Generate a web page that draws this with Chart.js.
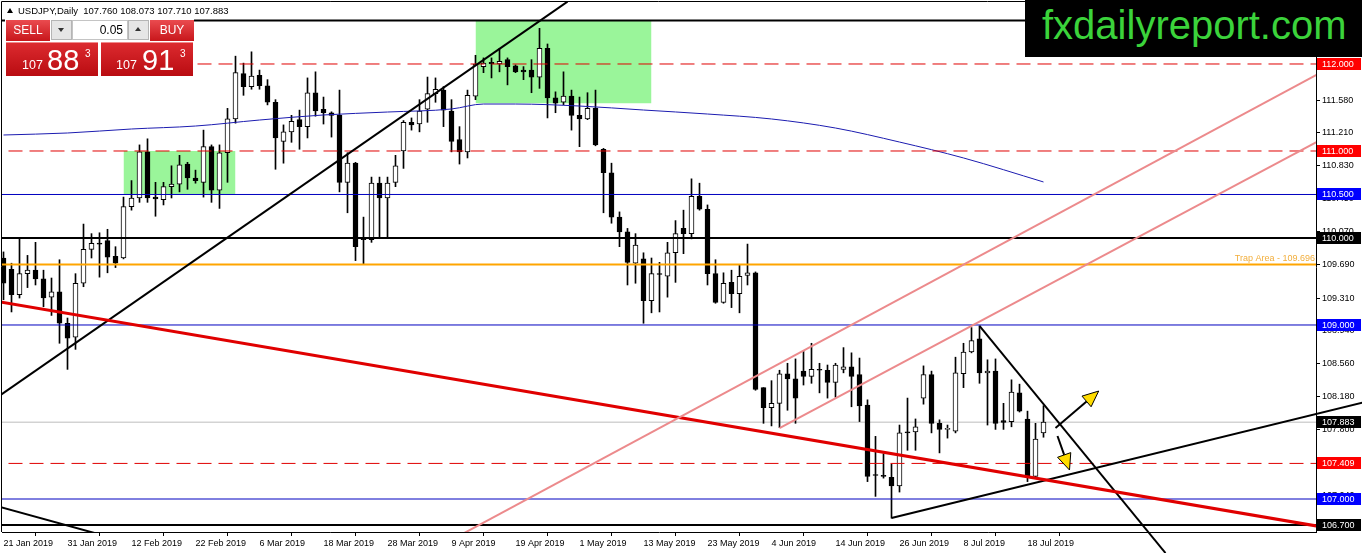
<!DOCTYPE html>
<html>
<head>
<meta charset="utf-8">
<script src="https://cdn.jsdelivr.net/npm/chart.js@4.4.1/dist/chart.umd.min.js"></script>
<style>
  html, body { margin: 0; padding: 0; background: #fff; }
  #wrap { position: relative; width: 1362px; height: 553px; overflow: hidden; font-family: 'Liberation Sans', Arial, sans-serif; }
  #wrap canvas { position: absolute; left: 0; top: 0; }
  .abs { position: absolute; line-height: 1; white-space: nowrap; }
  .red { position: absolute; background: linear-gradient(#ea4b4f, #c8161b); color: #fff; }
  .gray { position: absolute; background: #e6e6e6; border: 1px solid #b5b5b5; box-sizing: border-box; }
</style>
</head>
<body>
<div id="wrap">
  <canvas id="chart" width="1362" height="553"></canvas>

  <!-- symbol header -->
  <div class="abs" style="left:7px;top:8px;width:0;height:0;border-left:3px solid transparent;border-right:3px solid transparent;border-bottom:5px solid #000;"></div>
  <div class="abs" style="left:18px;top:6px;font-size:9.5px;color:#000;">USDJPY,Daily&nbsp; 107.760 108.073 107.710 107.883</div>

  <!-- one click trading panel -->
  <div style="position:absolute;left:5px;top:19px;width:189px;height:57px;background:#fff;"></div>
  <div class="red" style="left:6px;top:20px;width:44px;height:21px;font-size:12px;line-height:21px;text-align:center;">SELL</div>
  <div class="gray" style="left:51px;top:20px;width:21px;height:20px;"></div>
  <div class="abs" style="left:58px;top:28px;width:0;height:0;border-left:3px solid transparent;border-right:3px solid transparent;border-top:4px solid #333;"></div>
  <div style="position:absolute;left:72px;top:20px;width:56px;height:20px;background:#fff;border:1px solid #c4c4c4;box-sizing:border-box;font-size:12px;line-height:18px;text-align:right;padding-right:4px;">0.05</div>
  <div class="gray" style="left:128px;top:20px;width:21px;height:20px;"></div>
  <div class="abs" style="left:135px;top:27px;width:0;height:0;border-left:3px solid transparent;border-right:3px solid transparent;border-bottom:4px solid #333;"></div>
  <div class="red" style="left:150px;top:20px;width:44px;height:21px;font-size:12px;line-height:21px;text-align:center;">BUY</div>

  <div class="red" style="left:6px;top:42px;width:92px;height:34px;background:linear-gradient(#dc2a2f,#b90c11);border-top:1px solid #f08a8c;box-sizing:border-box;">
    <span class="abs" style="left:16px;top:16px;font-size:12.5px;">107</span>
    <span class="abs" style="left:41px;top:3px;font-size:29px;">88</span>
    <span class="abs" style="left:79px;top:6px;font-size:10px;">3</span>
  </div>
  <div class="red" style="left:101px;top:42px;width:92px;height:34px;background:linear-gradient(#dc2a2f,#b90c11);border-top:1px solid #f08a8c;box-sizing:border-box;">
    <span class="abs" style="left:15px;top:16px;font-size:12.5px;">107</span>
    <span class="abs" style="left:41px;top:3px;font-size:29px;">91</span>
    <span class="abs" style="left:79px;top:6px;font-size:10px;">3</span>
  </div>

  <!-- watermark box -->
  <div style="position:absolute;left:1025px;top:0;width:337px;height:57px;background:#000;"></div>
  <div class="abs" style="left:1042px;top:5px;font-size:40px;color:#3bd33b;">fxdailyreport.com</div>
</div>

<script>
// daily candles, 21 Jan 2019 (index 0) .. 22 Jul 2019 (index 130)
const opens = [
  109.77,109.64,109.35,109.59,109.63,109.53,109.32,109.38,109.02,108.86,
  109.48,109.87,109.94,109.97,109.79,109.77,110.36,110.46,110.99,110.47,
  110.44,110.59,110.62,110.85,110.69,110.64,111.05,110.55,110.98,111.37,
  111.89,111.74,111.87,111.75,111.56,111.11,111.22,111.36,111.28,111.67,
  111.48,111.44,111.41,110.64,110.86,110.00,109.98,110.63,110.46,110.64,
  111.00,111.33,111.31,111.48,111.66,111.70,111.46,111.13,110.99,111.63,
  111.97,112.02,112.00,112.05,111.98,111.93,111.93,111.85,112.18,111.61,
  111.56,111.63,111.41,111.37,111.49,111.02,110.75,110.24,110.07,109.71,
  109.76,109.28,109.59,109.56,109.83,110.11,110.05,110.48,110.33,109.59,
  109.26,109.49,109.36,109.57,109.60,108.28,108.05,108.10,108.44,108.38,
  108.47,108.41,108.49,108.48,108.34,108.49,108.52,108.43,108.08,107.28,
  107.27,107.25,107.15,107.77,107.77,108.16,108.43,107.87,107.80,107.78,
  108.44,108.69,108.84,108.45,108.47,107.90,107.89,108.22,107.92,107.26,
  107.760
];
const highs = [
  109.84,109.71,110.00,109.80,109.95,109.63,109.54,109.75,109.08,109.59,
  110.16,110.05,110.06,110.10,109.90,110.47,110.66,111.07,111.14,110.64,
  110.64,110.83,110.95,110.87,110.78,111.24,111.07,111.07,111.49,112.09,
  112.01,112.14,111.93,111.82,111.59,111.30,111.41,111.47,111.84,111.91,
  111.62,111.45,111.70,110.98,110.87,110.24,110.70,110.70,110.70,110.95,
  111.35,111.38,111.59,111.85,111.84,111.74,111.59,111.28,111.70,112.10,
  112.07,112.07,112.18,112.07,111.99,111.97,112.05,112.41,112.23,111.68,
  111.91,111.70,111.62,111.67,111.70,111.03,110.86,110.30,110.11,110.05,
  109.83,109.77,109.72,109.95,110.20,110.32,110.68,110.63,110.38,109.75,
  109.60,109.63,109.69,109.93,109.61,108.28,108.36,108.48,108.56,108.61,
  108.70,108.79,108.56,108.54,108.56,108.74,108.68,108.62,108.14,107.72,
  107.52,107.40,107.85,108.16,107.92,108.53,108.47,107.91,107.85,108.63,
  108.79,108.97,108.99,108.60,108.61,108.10,108.37,108.32,108.01,107.87,
  108.073
];
const lows = [
  109.29,109.15,109.31,109.43,109.46,109.21,109.11,108.79,108.49,108.72,
  109.44,109.77,109.55,109.60,109.66,109.76,110.32,110.41,110.41,110.25,
  110.38,110.46,110.53,110.56,110.63,110.47,110.41,110.34,110.64,111.32,
  111.64,111.71,111.71,111.53,110.79,110.86,111.10,111.02,111.15,111.40,
  111.31,111.16,110.53,110.29,109.74,109.70,109.95,110.01,110.01,110.59,
  110.80,111.24,111.22,111.33,111.56,111.28,110.99,110.85,110.92,111.59,
  111.90,111.84,111.91,111.76,111.90,111.82,111.67,111.72,111.38,111.44,
  111.53,111.24,111.05,111.36,111.06,110.29,110.17,109.90,109.46,109.48,
  109.02,109.14,109.15,109.32,109.49,109.82,109.99,110.32,109.46,109.25,
  109.25,109.20,109.14,109.46,108.25,107.87,107.84,107.82,108.02,107.87,
  108.31,108.33,108.22,108.16,108.17,108.45,108.06,107.89,107.20,107.03,
  107.24,106.78,107.08,107.56,107.56,108.09,107.76,107.53,107.70,107.76,
  108.28,108.68,108.33,107.85,107.80,107.80,107.83,108.00,107.20,107.24,
  107.710
];
const closes = [
  109.48,109.35,109.59,109.63,109.53,109.31,109.38,109.02,108.85,109.48,
  109.87,109.94,109.93,109.78,109.71,110.36,110.46,110.99,110.46,110.45,
  110.59,110.62,110.84,110.69,110.66,111.05,110.55,110.98,111.37,111.90,
  111.74,111.86,111.75,111.56,111.15,111.22,111.34,111.28,111.67,111.46,
  111.44,111.41,110.64,110.86,109.90,109.98,110.63,110.46,110.63,110.83,
  111.33,111.30,111.46,111.66,111.71,111.47,111.11,110.99,111.64,112.00,
  112.01,112.00,112.03,111.97,111.91,111.91,111.85,112.18,111.61,111.55,
  111.63,111.41,111.37,111.49,111.07,110.75,110.24,110.07,109.72,109.92,
  109.28,109.59,109.58,109.83,110.05,110.05,110.48,110.33,109.59,109.26,
  109.48,109.36,109.56,109.60,108.26,108.05,108.10,108.44,108.38,108.16,
  108.41,108.49,108.48,108.34,108.54,108.52,108.41,108.07,107.26,107.27,
  107.26,107.15,107.76,107.76,107.83,108.43,107.87,107.80,107.81,108.45,
  108.69,108.82,108.45,108.47,107.87,107.88,108.23,108.01,107.25,107.69,
  107.883
];

// moving average read at sample bars
const maIdx  = [0, 8, 16, 24, 32, 40, 48, 56, 60, 64, 72, 80, 88, 96, 104, 112, 120, 130];
const maVals = [111.184, 111.207, 111.253, 111.287, 111.356, 111.414, 111.448, 111.483, 111.540,
                111.540, 111.517, 111.471, 111.425, 111.368, 111.264, 111.103, 110.920, 110.644];

// axes
const xTickIdx = [0, 8, 16, 24, 32, 40, 48, 56, 64, 72, 80, 88, 96, 104, 112, 120, 128];
const xTickLabels = ['21 Jan 2019', '31 Jan 2019', '12 Feb 2019', '22 Feb 2019', '6 Mar 2019',
  '18 Mar 2019', '28 Mar 2019', '9 Apr 2019', '19 Apr 2019', '1 May 2019', '13 May 2019',
  '23 May 2019', '4 Jun 2019', '14 Jun 2019', '26 Jun 2019', '8 Jul 2019', '18 Jul 2019'];
const yTicks = [106.670, 107.040, 107.420, 107.800, 108.180, 108.560, 108.940, 109.310,
                109.690, 110.070, 110.450, 110.830, 111.210, 111.580, 111.960, 112.340];

// drawn objects (bar index, price)
const levels     = [112.5, 112.0, 111.0, 110.5, 110.0, 109.696, 109.0, 107.409, 107.0, 106.7];
const levelKinds = ['black', 'reddash', 'reddash', 'blue', 'black', 'orange', 'blue', 'reddash', 'blue', 'black'];
const bidPrice = 107.883;
const tagValues = [112.0, 111.0, 110.5, 110.0, 109.0, 107.883, 107.409, 107.0, 106.7];
const tagColors = ['#ff0000', '#ff0000', '#0000ff', '#000', '#0000ff', '#000', '#ff0000', '#0000ff', '#000'];
const zones = [
  { from: 15, to: 29, top: 111.0, bottom: 110.5 },
  { from: 59, to: 81, top: 112.5, bottom: 111.55 }
];
const trendBlackUp   = [[-0.375, 108.195], [70.5, 112.717]];
const trendBlackLow  = [[-0.375, 106.908], [11.625, 106.603]];
const trendRed       = [[-0.375, 109.264], [164.125, 106.690]];
const trendPink1     = [[57.125, 106.586], [164.125, 111.874]];
const trendPink2     = [[97, 107.816], [164.125, 111.103]];
const trendBlackDown = [[122, 108.989], [145.25, 106.379]];
const trendSupport   = [[111, 106.782], [169.875, 108.107]];
const arrows = [
  { from: [131.5, 107.816], to: [136.9, 108.241] },
  { from: [131.75, 107.724], to: [133.25, 107.333] }
];

const FONT = "'Liberation Sans', Arial, sans-serif";
const xMin = -0.1875, xMax = xMin + 1314 / 8;
const yMin = 106.6207, yMax = 112.7126;

const idx = opens.map((_, i) => i);
const pts = arr => arr.map(p => ({ x: p[0], y: p[1] }));
const noClip = { left: 0, top: 0, right: 0, bottom: 0 };

function seg(points, color, width, clip, order) {
  return { type: 'line', data: pts(points), borderColor: color, borderWidth: width,
           pointRadius: 0, fill: false, clip: clip || noClip, order: order || 3 };
}

const levelStyle = {
  black:   { color: '#000', width: 2, dash: [] },
  reddash: { color: '#e00000', width: 1, dash: [14, 7] },
  blue:    { color: '#0000c0', width: 1, dash: [] },
  orange:  { color: '#ffa500', width: 2, dash: [] }
};

const datasets = [];

zones.forEach(z => {
  datasets.push({ type: 'line', data: [{ x: z.from, y: z.top }, { x: z.to, y: z.top }],
    borderWidth: 0, pointRadius: 0, fill: { value: z.bottom },
    backgroundColor: '#9af59a', clip: noClip, order: 20 });
});

datasets.push({ type: 'line', data: [{ x: -2, y: bidPrice }, { x: 175, y: bidPrice }],
  borderColor: '#bdbdbd', borderWidth: 1, pointRadius: 0, clip: noClip, order: 16 });

// candle wicks and bodies
datasets.push({ type: 'bar', data: idx.map(i => ({ x: i, y: [lows[i], highs[i]] })),
  backgroundColor: '#000', barThickness: 1, grouped: false, order: 15 });
datasets.push({ type: 'bar', data: idx.map(i => ({ x: i, y: [opens[i], closes[i]] })),
  backgroundColor: idx.map(i => closes[i] >= opens[i] ? '#fff' : '#000'),
  borderColor: '#000', borderWidth: 1, borderSkipped: false,
  barThickness: 5, minBarLength: 1, grouped: false, order: 14 });

// moving average
datasets.push({ type: 'line', data: maIdx.map((k, i) => ({ x: k, y: maVals[i] })),
  borderColor: '#1c1cb0', borderWidth: 1, pointRadius: 0, cubicInterpolationMode: 'monotone',
  clip: noClip, order: 6 });

levels.forEach((v, i) => {
  const st = levelStyle[levelKinds[i]];
  datasets.push({ type: 'line', data: [{ x: -2, y: v }, { x: 175, y: v }],
    borderColor: st.color, borderWidth: st.width, borderDash: st.dash,
    pointRadius: 0, clip: noClip, order: 5 });
});

datasets.push(seg(trendPink1, '#ec8a8c', 2));
datasets.push(seg(trendPink2, '#ec8a8c', 2));
datasets.push(seg(trendRed, '#e00000', 3));
datasets.push(seg(trendBlackUp, '#000', 2));
datasets.push(seg(trendBlackLow, '#000', 2));
datasets.push(seg(trendBlackDown, '#000', 2, { left: 0, top: 0, right: 0, bottom: 21 }));
datasets.push(seg(trendSupport, '#000', 2, { left: 0, top: 0, right: 46, bottom: 0 }));

const overlay = {
  id: 'overlay',
  afterDatasetsDraw(chart) {
    const { ctx, scales: { x, y } } = chart;
    ctx.save();
    arrows.forEach(a => {
      const x0 = x.getPixelForValue(a.from[0]), y0 = y.getPixelForValue(a.from[1]);
      const x1 = x.getPixelForValue(a.to[0]),   y1 = y.getPixelForValue(a.to[1]);
      const ang = Math.atan2(y1 - y0, x1 - x0);
      const L = 16, W = 7;
      const bx = x1 - L * Math.cos(ang), by = y1 - L * Math.sin(ang);
      ctx.strokeStyle = '#000';
      ctx.lineWidth = 2;
      ctx.beginPath(); ctx.moveTo(x0, y0); ctx.lineTo(bx, by); ctx.stroke();
      ctx.beginPath();
      ctx.moveTo(x1, y1);
      ctx.lineTo(bx + W * Math.sin(ang), by - W * Math.cos(ang));
      ctx.lineTo(bx - W * Math.sin(ang), by + W * Math.cos(ang));
      ctx.closePath();
      ctx.fillStyle = '#ffdc00';
      ctx.fill();
      ctx.lineWidth = 1;
      ctx.stroke();
    });
    ctx.restore();
  },
  afterDraw(chart) {
    const { ctx, chartArea, scales: { y } } = chart;
    ctx.save();
    // frame
    ctx.strokeStyle = '#000';
    ctx.lineWidth = 1;
    ctx.beginPath();
    ctx.moveTo(chartArea.left - 0.5, chartArea.bottom);
    ctx.lineTo(chartArea.left - 0.5, chartArea.top - 0.5);
    ctx.lineTo(chartArea.right, chartArea.top - 0.5);
    ctx.stroke();

    // trap area note
    const ty = y.getPixelForValue(109.696);
    ctx.font = '9px ' + FONT;
    ctx.fillStyle = '#f2ae3c';
    ctx.textAlign = 'right';
    ctx.textBaseline = 'alphabetic';
    ctx.fillText('Trap Area - 109.696', chartArea.right - 1, ty - 3);

    // price tags on the axis
    ctx.textAlign = 'left';
    ctx.textBaseline = 'middle';
    tagValues.forEach((v, i) => {
      const py = Math.round(y.getPixelForValue(v));
      ctx.fillStyle = tagColors[i];
      ctx.fillRect(chartArea.right + 1, py - 6, 44, 12);
      ctx.fillStyle = '#fff';
      ctx.fillText(v.toFixed(3), chartArea.right + 6, py + 0.5);
    });
    ctx.restore();
  }
};

new Chart(document.getElementById('chart'), {
  type: 'bar',
  data: { datasets },
  options: {
    responsive: false,
    animation: false,
    events: [],
    layout: { padding: { left: 2, top: 2, right: 0, bottom: 0 } },
    plugins: { legend: { display: false }, tooltip: { enabled: false } },
    scales: {
      x: {
        type: 'linear', min: xMin, max: xMax, offset: false,
        afterBuildTicks: s => { s.ticks = xTickIdx.map(v => ({ value: v })); },
        afterFit: s => { s.height = 21; s.paddingLeft = 0; s.paddingRight = 0; },
        grid: { display: true, drawOnChartArea: false, drawTicks: true, tickLength: 4, color: '#000' },
        border: { display: true, color: '#000', width: 1 },
        ticks: {
          autoSkip: false, maxRotation: 0, minRotation: 0, align: 'start', padding: 2,
          color: '#000', font: { family: FONT, size: 9 },
          callback: v => xTickLabels[xTickIdx.indexOf(v)]
        }
      },
      y: {
        type: 'linear', position: 'right', min: yMin, max: yMax,
        afterBuildTicks: s => { s.ticks = yTicks.map(v => ({ value: v })); },
        afterFit: s => { s.width = 46; s.paddingTop = 0; s.paddingBottom = 0; },
        grid: { display: true, drawOnChartArea: false, drawTicks: true, tickLength: 4, color: '#000' },
        border: { display: true, color: '#000', width: 1 },
        ticks: {
          autoSkip: false, padding: 2, color: '#000', font: { family: FONT, size: 9 },
          callback: v => v.toFixed(3)
        }
      }
    }
  },
  plugins: [overlay]
});
</script>
</body>
</html>
